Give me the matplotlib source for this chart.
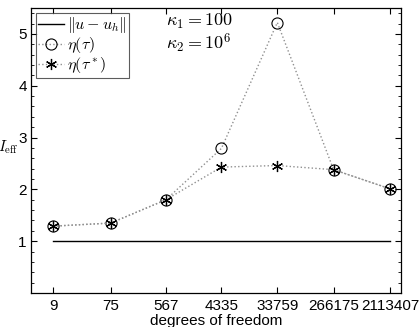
import matplotlib
matplotlib.use("Agg")
import matplotlib.pyplot as plt
from matplotlib.ticker import FixedLocator, MultipleLocator, NullLocator

plt.rcParams['font.family'] = ['Liberation Sans', 'DejaVu Sans']
plt.rcParams['mathtext.fontset'] = 'cm'

dofs = [9, 75, 567, 4335, 33759, 266175, 2113407]
err = [1, 1, 1, 1, 1, 1, 1]
eta_tau = [1.29, 1.35, 1.80, 2.79, 5.22, 2.38, 2.01]
eta_tau_star = [1.29, 1.35, 1.80, 2.43, 2.46, 2.38, 2.01]
xlabels = ["9", "75", "567", "4335", "33759", "266175", "2113407"]

W, H = 420, 327
fig = plt.figure(figsize=(4.2, 3.27), dpi=100)
ax = fig.add_axes([31/W, 1-293/H, 370/W, 285/H])

ax.plot(dofs, err, '-', color='black', lw=1.0, label=r'$\|u-u_h\|$')
ax.plot(dofs, eta_tau, ':', color='#909090', lw=1.0, marker='o', ms=8,
        mfc='none', mec='black', mew=0.8, label=r'$\eta(\tau)$')
ax.plot(dofs, eta_tau_star, ':', color='#909090', lw=1.0, marker=(6, 2, 0), ms=8,
        mec='black', mew=0.9, label=r'$\eta(\tau^*)$')

ax.set_xscale('log')
ax.set_xlim(4.0, 3.16e6)
ax.set_ylim(0, 5.5)
ax.xaxis.set_major_locator(FixedLocator(dofs))
ax.xaxis.set_minor_locator(NullLocator())
ax.set_xticklabels(xlabels)
ax.yaxis.set_major_locator(FixedLocator([1, 2, 3, 4, 5]))
ax.yaxis.set_minor_locator(MultipleLocator(0.2))
ax.tick_params(which='both', direction='in', top=True, right=True, labelsize=11, pad=4)
ax.tick_params(axis='y', pad=3)
ax.tick_params(which='major', length=4)
ax.tick_params(which='minor', length=2)
for s in ax.spines.values():
    s.set_linewidth(0.9)

ax.set_xlabel('degrees of freedom', fontsize=11, labelpad=1)
ax.set_ylabel(r'$I_{\rm eff}$', fontsize=11, rotation=0, ha='right', va='center')
ax.yaxis.set_label_coords((19-31)/370, 0.51)

leg = ax.legend(loc='upper left', fontsize=11.5, frameon=True, fancybox=False,
                edgecolor='#333333', borderpad=0.15, handlelength=1.6,
                handletextpad=0.2, labelspacing=0.0, borderaxespad=0.3)
leg.get_frame().set_linewidth(0.8)

ax.text((166-31)/370, (293-21)/285, r'$\kappa_1 = 100$', transform=ax.transAxes,
        fontsize=13, va='center', ha='left')
ax.text((166-31)/370, (293-43)/285, r'$\kappa_2 = 10^6$', transform=ax.transAxes,
        fontsize=13, va='center', ha='left')

fig.savefig('out.png', dpi=100)
